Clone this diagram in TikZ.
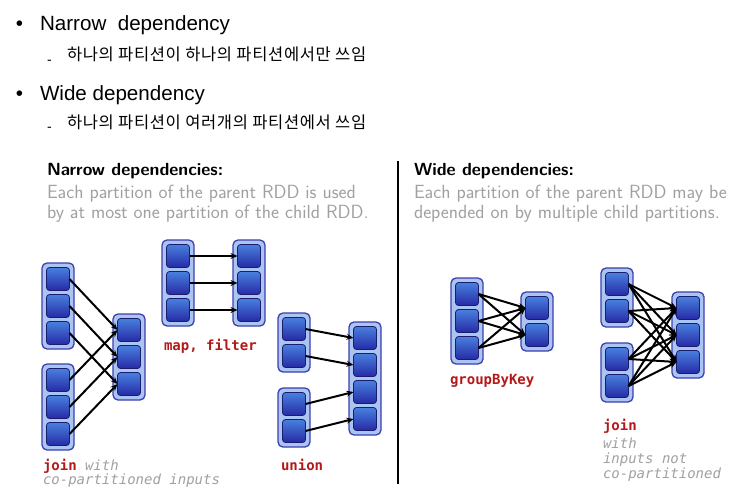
\documentclass[tikz,border=0pt]{standalone}
\usepackage{fontspec}
\setmainfont{Liberation Sans}
\newfontfamily\kr[LetterSpace=4]{Noto Sans CJK KR}
\newfontfamily\dvm{DejaVu Sans Mono}
\usetikzlibrary{arrows.meta}
\definecolor{contfill}{RGB}{170,197,242}
\definecolor{contdraw}{RGB}{62,62,175}
\definecolor{parttop}{RGB}{72,128,222}
\definecolor{partbot}{RGB}{38,42,165}
\definecolor{partdraw}{RGB}{28,28,110}
\definecolor{graytxt}{RGB}{160,160,160}
\definecolor{redlbl}{RGB}{180,24,24}
\tikzset{
  rddc/.style={draw=contdraw, fill=contfill, line width=1.3pt, rounded corners=5pt, minimum width=32pt, inner sep=0pt, outer sep=0pt},
  part/.style={draw=partdraw, line width=0.8pt, rounded corners=3pt, top color=parttop, bottom color=partbot, minimum size=23pt, inner sep=0pt, outer sep=0pt},
  dep/.style={-{Stealth[length=7pt,width=6pt]}, line width=2pt, black},
  txt/.style={anchor=base west, inner sep=0pt, outer sep=0pt},
  bul/.style={txt, font=\fontsize{20.6}{24}\selectfont},
  kor/.style={txt, font=\kr\fontsize{16.5}{20}\selectfont},
  dsh/.style={txt, font=\fontsize{14}{16}\selectfont},
  head/.style={txt, font=\sffamily\bfseries\fontsize{17.6}{21}\selectfont},
  desc/.style={txt, text=graytxt, font=\sffamily\fontsize{19.1}{22}\selectfont},
  redl/.style={txt, text=redlbl, font=\dvm\bfseries\fontsize{14}{16}\selectfont},
  grayl/.style={txt, text=graytxt, font=\dvm\itshape\fontsize{14}{16}\selectfont}
}
\newcommand{\rddbox}[4]{%
  \node[rddc, anchor=north west, minimum height={27*#4+5}] (#1) at (#2,#3) {};
  \foreach \i in {1,...,#4}{\node[part] (#1\i) at ({#2+16},{#3+16+27*(\i-1)}) {};}
}
\begin{document}
\begin{tikzpicture}[x=1pt,y=-1pt]
\useasboundingbox (0,0) rectangle (746,499);
% top bullets
\node[bul] (b1) at (16,30) {•};
\node[bul] (t1) at (40,30) {Narrow\ \ dependency};
\node[dsh] (d1) at (47,64) {-};
\node[kor] (k1) at (67,60) {하나의 파티션이 하나의 파티션에서만 쓰임};
\node[bul] (b2) at (16,100) {•};
\node[bul] (t2) at (40,100) {Wide dependency};
\node[dsh] (d2) at (47,131) {-};
\node[kor] (k2) at (67,128) {하나의 파티션이 여러개의 파티션에서 쓰임};
% headings
\node[head] (hn) at (47,175) {Narrow dependencies:};
\node[desc] (n1) at (47,198) {Each partition of the parent RDD is used};
\node[desc] (n2) at (47,218) {by at most one partition of the child RDD.};
\node[head] (hw) at (414,175) {Wide dependencies:};
\node[desc] (w1) at (414,198) {Each partition of the parent RDD may be};
\node[desc] (w2) at (414,218) {depended on by multiple child partitions.};
% divider
\coordinate (dtop) at (398,161);
\coordinate (dbot) at (398,484);
\draw[line width=2pt] (dtop) -- (dbot);
% narrow join
\rddbox{A}{42}{263}{3}
\rddbox{B}{42}{364}{3}
\rddbox{C}{113}{314}{3}
\foreach \i in {1,2,3}{\draw[dep] (A\i.east) -- (C\i.west); \draw[dep] (B\i.east) -- (C\i.west);}
% map filter
\rddbox{P}{162}{240}{3}
\rddbox{Q}{233}{240}{3}
\foreach \i in {1,2,3}{\draw[dep] (P\i.east) -- (Q\i.west);}
% union
\rddbox{UA}{278}{313}{2}
\rddbox{UB}{278}{388}{2}
\rddbox{UC}{349}{322}{4}
\draw[dep] (UA1.east) -- (UC1.west);
\draw[dep] (UA2.east) -- (UC2.west);
\draw[dep] (UB1.east) -- (UC3.west);
\draw[dep] (UB2.east) -- (UC4.west);
% groupByKey
\rddbox{G}{451}{278}{3}
\rddbox{H}{521}{292}{2}
\foreach \i in {1,2,3}{\foreach \j in {1,2}{\draw[dep] (G\i.east) -- (H\j.west);}}
% wide join
\rddbox{JA}{601}{268}{2}
\rddbox{JB}{601}{343}{2}
\rddbox{JC}{672}{292}{3}
\foreach \i in {1,2}{\foreach \j in {1,2,3}{\draw[dep] (JA\i.east) -- (JC\j.west); \draw[dep] (JB\i.east) -- (JC\j.west);}}
% labels
\node[redl] (lmap) at (164,350) {map, filter};
\node[redl] (lj1) at (43,470) {join};
\node[grayl] (lw1) at (85,470) {with};
\node[grayl] (lc1) at (43,484) {co-partitioned inputs};
\node[redl] (lun) at (281,470) {union};
\node[redl] (lgb) at (450,384) {groupByKey};
\node[redl] (lj2) at (603,430) {join};
\node[grayl] (lw2) at (603,448) {with};
\node[grayl] (li2) at (603,463) {inputs not};
\node[grayl] (lc2) at (603,478) {co-partitioned};
\end{tikzpicture}
\end{document}
